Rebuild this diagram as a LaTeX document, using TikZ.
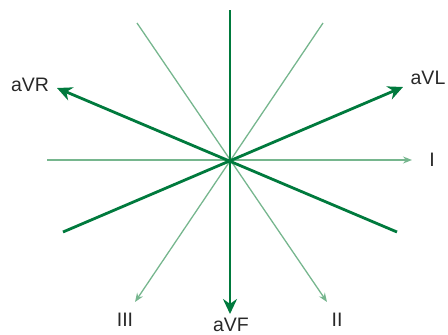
\documentclass[tikz,border=0pt]{standalone}
\usepackage{fontspec}
\setmainfont{Liberation Sans}
\usetikzlibrary{arrows.meta}
\definecolor{leadgreen}{RGB}{0,122,61}
\definecolor{lightgreen}{RGB}{118,182,142}
\definecolor{labelgray}{RGB}{40,40,40}

\begin{document}
\begin{tikzpicture}[
  x=1pt, y=-1pt,
  thick lead/.style={draw=leadgreen, line width=2.8pt},
  thin lead/.style={draw=lightgreen, line width=1.3pt},
  bigarr/.style={-{Stealth[length=15pt, width=14pt]}},
  smallarr/.style={-{Stealth[length=9pt, width=7pt, inset=3pt]}},
  lbl/.style={text=labelgray, font=\fontsize{19.5}{21}\selectfont, inner sep=0pt}
]
\useasboundingbox (0,0) rectangle (448,335);

% centre and free ends
\coordinate (o)   at (230,160);
\coordinate (top) at (230,10);
\coordinate (left) at (47,160);
\coordinate (tl)  at (137,23);
\coordinate (tr)  at (323,23);
\coordinate (bl)  at (63,232);
\coordinate (br)  at (397,232);
\coordinate (avr) at (57,88);
\coordinate (avl) at (403,87);
\coordinate (i)   at (412,160);
\coordinate (ii)  at (327,302);
\coordinate (iii) at (135,302);
\coordinate (avf) at (230,314);

% thin leads (I, II, III)
\draw[thin lead, smallarr] (left) -- (i);
\draw[thin lead, smallarr] (tl) -- (ii);
\draw[thin lead, smallarr] (tr) -- (iii);

% augmented leads
\draw[thick lead, bigarr] (br) -- (avr);
\draw[thick lead, bigarr] (bl) -- (avl);
\draw[thick lead, bigarr] (top) -- (avf);

% labels
\node[lbl] (lavr) at (30,85)  {aVR};
\node[lbl] (lavl) at (428,78) {aVL};
\node[lbl] (li)   at (432,160) {I};
\node[lbl] (lii)  at (337,320) {II};
\node[lbl] (liii) at (125,320) {III};
\node[lbl] (lavf) at (231,325) {aVF};
\end{tikzpicture}
\end{document}
